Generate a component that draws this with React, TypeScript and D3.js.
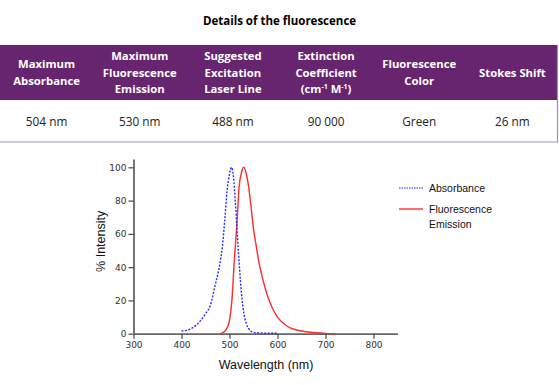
import React, { useRef, useEffect } from 'react';
import * as d3 from 'd3';

// table content
const title = 'Details of the fluorescence';
const headers = [
  ['Maximum', 'Absorbance'],
  ['Maximum', 'Fluorescence', 'Emission'],
  ['Suggested', 'Excitation', 'Laser Line'],
  ['Extinction', 'Coefficient', 'UNITS'],
  ['Fluorescence', 'Color'],
  ['Stokes Shift'],
];
const rowValues = ['504 nm', '530 nm', '488 nm', '90 000', 'Green', '26 nm'];

// spectra (wavelength nm, % intensity)
const absWavelengths = [400, 410, 420, 430, 440, 450, 460, 470, 480, 485, 490, 495, 500, 504, 508, 512, 516, 520, 525, 530, 535, 540, 545, 550, 560, 580, 600];
const absValues = [1.6, 2.0, 3.0, 5.0, 8.0, 12, 17, 29, 42, 52, 68, 86, 96, 100, 95, 80, 61, 43, 24, 12, 6, 3, 1.5, 0.8, 0.5, 0.3, 0.3];
const emWavelengths = [480, 485, 490, 495, 500, 505, 510, 515, 520, 525, 530, 535, 540, 545, 550, 555, 560, 570, 580, 590, 600, 620, 640, 660, 680, 700, 720];
const emValues = [0, 0.5, 1.5, 3.5, 8, 20, 44, 64, 88, 97, 100, 96, 88, 76, 63, 54, 45, 32, 22, 15, 10, 4.5, 2.2, 1.2, 0.6, 0.2, 0];
const xTicks = [300, 400, 500, 600, 700, 800];
const yTicks = [0, 20, 40, 60, 80, 100];

const W = 559;
const H = 385;
const PURPLE = '#67256f';

const App = () => {
  const svgRef = useRef<SVGSVGElement>(null);

  useEffect(() => {
    if (!svgRef.current) return;
    const svg = d3.select(svgRef.current);
    svg.selectAll('*').remove();

    // ---- title + table ----
    svg.append('text')
      .attr('x', W / 2)
      .attr('y', 25)
      .attr('text-anchor', 'middle')
      .attr('font-family', 'Open Sans, sans-serif')
      .attr('font-weight', 'bold')
      .attr('font-size', 11.5)
      .attr('fill', '#000')
      .text(title);

    const colW = W / headers.length;
    svg.append('rect')
      .attr('x', 0).attr('y', 45)
      .attr('width', W - 1).attr('height', 55)
      .attr('fill', PURPLE);
    svg.append('line')
      .attr('x1', 0).attr('x2', W - 1).attr('y1', 142).attr('y2', 142)
      .attr('stroke', '#a48bc4').attr('stroke-width', 1.2);
    svg.append('line')
      .attr('x1', W - 1.5).attr('x2', W - 1.5).attr('y1', 45).attr('y2', 142.5)
      .attr('stroke', '#a48bc4').attr('stroke-width', 1.2);

    const lineH = 16.5;
    headers.forEach((lines, i) => {
      const cx = colW * (i + 0.5);
      const y0 = 72.5 - ((lines.length - 1) * lineH) / 2 + 4;
      lines.forEach((ln, j) => {
        const t = svg.append('text')
          .attr('x', cx)
          .attr('y', y0 + j * lineH)
          .attr('text-anchor', 'middle')
          .attr('font-family', 'Open Sans, sans-serif')
          .attr('font-weight', 'bold')
          .attr('font-size', 11.3)
          .attr('fill', '#fff');
        if (ln === 'UNITS') {
          t.append('tspan').text('(cm');
          t.append('tspan').attr('font-size', 7).attr('dy', -4).text('-1');
          t.append('tspan').attr('dy', 4).text(' M');
          t.append('tspan').attr('font-size', 7).attr('dy', -4).text('-1');
          t.append('tspan').attr('dy', 4).text(')');
        } else {
          t.text(ln);
        }
      });
    });

    rowValues.forEach((v, i) => {
      svg.append('text')
        .attr('x', colW * (i + 0.5))
        .attr('y', 126)
        .attr('text-anchor', 'middle')
        .attr('font-family', 'Open Sans, sans-serif')
        .attr('font-size', 11.8)
        .attr('fill', '#222')
        .text(v);
    });

    // ---- chart ----
    const x = d3.scaleLinear().domain([300, 850]).range([133.5, 397.5]);
    const y = d3.scaleLinear().domain([0, 105]).range([333.7, 159]);

    const xAxis = svg.append('g')
      .attr('transform', `translate(0, ${y(0)})`)
      .call(d3.axisBottom(x).tickValues(xTicks).tickSize(5).tickSizeOuter(0).tickPadding(3));
    const yAxis = svg.append('g')
      .attr('transform', `translate(${x(300)}, 0)`)
      .call(d3.axisLeft(y).tickValues(yTicks).tickSize(5).tickSizeOuter(0).tickPadding(2));

    [xAxis, yAxis].forEach(g => {
      g.select('.domain').attr('stroke', '#666').attr('stroke-width', 1.8);
      g.selectAll('.tick line').attr('stroke', '#444').attr('stroke-width', 1.2);
      g.selectAll('.tick text')
        .attr('font-family', 'DejaVu Sans, sans-serif')
        .attr('font-size', 9)
        .attr('fill', '#333');
    });

    const line = d3.line<[number, number]>()
      .x(d => x(d[0]))
      .y(d => y(d[1]))
      .curve(d3.curveMonotoneX);

    const absData = absWavelengths.map((w, i) => [w, absValues[i]] as [number, number]);
    const emData = emWavelengths.map((w, i) => [w, emValues[i]] as [number, number]);

    svg.append('path')
      .attr('d', line(emData))
      .attr('fill', 'none')
      .attr('stroke', '#ff2a2a')
      .attr('stroke-width', 1.4);

    svg.append('path')
      .attr('d', line(absData))
      .attr('fill', 'none')
      .attr('stroke', '#2a2aff')
      .attr('stroke-width', 1.4)
      .attr('stroke-dasharray', '2,1.5');

    // axis titles
    svg.append('text')
      .attr('transform', `translate(105, ${y(55.5)}) rotate(-90)`)
      .attr('text-anchor', 'middle')
      .attr('font-family', 'Liberation Sans, Arial, sans-serif')
      .attr('font-size', 12.5)
      .attr('fill', '#111')
      .text('% Intensity');

    svg.append('text')
      .attr('x', 266)
      .attr('y', 369)
      .attr('text-anchor', 'middle')
      .attr('font-family', 'Liberation Sans, Arial, sans-serif')
      .attr('font-size', 12.5)
      .attr('fill', '#111')
      .text('Wavelength (nm)');

    // legend
    const legend = svg.append('g').attr('font-family', 'Liberation Sans, Arial, sans-serif').attr('font-size', 10.5).attr('fill', '#111');
    legend.append('line')
      .attr('x1', 399).attr('x2', 423).attr('y1', 188).attr('y2', 188)
      .attr('stroke', '#2a2aff').attr('stroke-width', 1.2).attr('stroke-dasharray', '1.5,1');
    legend.append('text').attr('x', 429).attr('y', 192).text('Absorbance');
    legend.append('line')
      .attr('x1', 399).attr('x2', 423).attr('y1', 209).attr('y2', 209)
      .attr('stroke', '#ff2a2a').attr('stroke-width', 1.4);
    legend.append('text').attr('x', 429).attr('y', 213).text('Fluorescence');
    legend.append('text').attr('x', 429).attr('y', 227.5).text('Emission');
  }, []);

  return (
    <svg
      ref={svgRef}
      width={W}
      height={H}
      style={{ position: 'absolute', left: 0, top: 0, background: '#fff' }}
    />
  );
};

export default App;
